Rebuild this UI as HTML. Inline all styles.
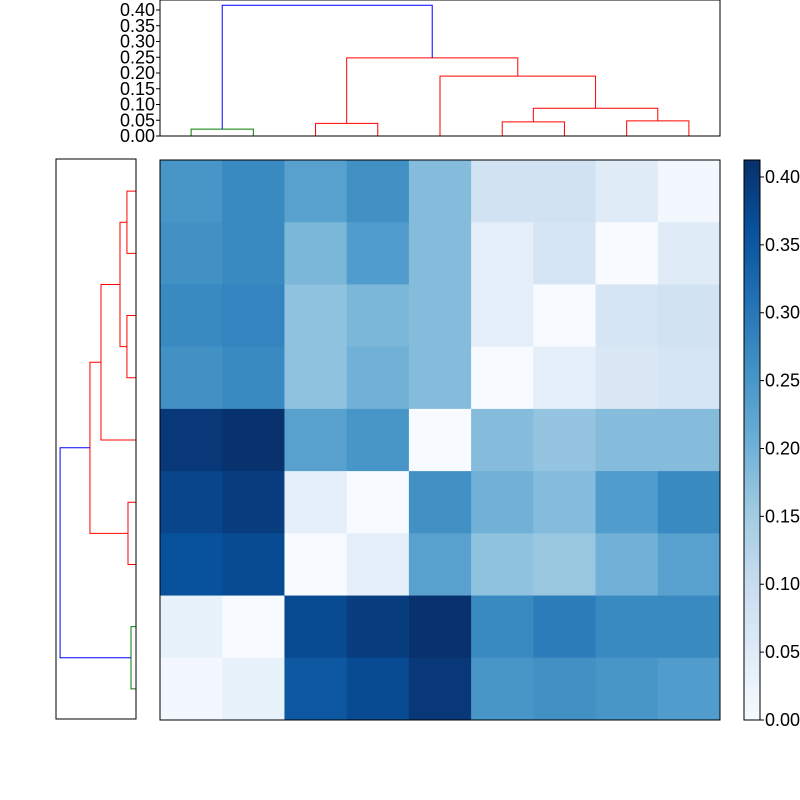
<!DOCTYPE html>
<html><head><meta charset="utf-8"><style>
body{margin:0;background:#fff;}
svg{display:block;font-family:"Liberation Sans",sans-serif;}
</style></head><body>
<svg id="chart" width="800" height="800" xmlns="http://www.w3.org/2000/svg">
<defs>
<linearGradient id="cbgrad" x1="0" y1="1" x2="0" y2="0">
<stop offset="0" stop-color="#f7fbff"/><stop offset="0.125" stop-color="#deebf7"/>
<stop offset="0.25" stop-color="#c6dbef"/><stop offset="0.375" stop-color="#9ecae1"/>
<stop offset="0.5" stop-color="#6baed6"/><stop offset="0.625" stop-color="#4292c6"/>
<stop offset="0.75" stop-color="#2171b5"/><stop offset="0.875" stop-color="#08519c"/>
<stop offset="1" stop-color="#08306b"/>
</linearGradient>
</defs>
<g id="heat"></g>
<g id="topd"></g>
<g id="leftd"></g>
<g id="cbar"></g>
</svg>
<script>
const matrix = [
 [0.25,0.27,0.23,0.26,0.18,0.08,0.08,0.05,0.01],
 [0.26,0.27,0.19,0.24,0.18,0.04,0.07,0.00,0.05],
 [0.27,0.28,0.17,0.19,0.18,0.04,0.00,0.07,0.08],
 [0.26,0.27,0.17,0.20,0.18,0.00,0.04,0.06,0.07],
 [0.40,0.41,0.23,0.25,0.00,0.18,0.165,0.18,0.18],
 [0.38,0.39,0.04,0.00,0.26,0.20,0.18,0.24,0.27],
 [0.36,0.37,0.00,0.04,0.23,0.17,0.16,0.20,0.23],
 [0.03,0.00,0.37,0.39,0.41,0.27,0.29,0.27,0.27],
 [0.01,0.03,0.35,0.37,0.40,0.25,0.26,0.25,0.24]
];
const vmax = 0.4125;
const cbTicks = [0.00,0.05,0.10,0.15,0.20,0.25,0.30,0.35,0.40];
const topTicks = [0.00,0.05,0.10,0.15,0.20,0.25,0.30,0.35,0.40];
const topLinks = [
 [0,1,0,0,0.022,'green'],
 [2,3,0,0,0.040,'red'],
 [5,6,0,0,0.045,'red'],
 [7,8,0,0,0.048,'red'],
 [5.5,7.5,0.045,0.048,0.088,'red'],
 [4,6.5,0,0.088,0.19,'red'],
 [2.5,5.25,0.040,0.19,0.248,'red'],
 [0.5,3.875,0.022,0.248,0.415,'blue']
];
const leftLinks = [
 [0,1,0,0,0.051,'red'],
 [2,3,0,0,0.051,'red'],
 [0.5,2.5,0.051,0.051,0.090,'red'],
 [1.5,4,0.090,0,0.197,'red'],
 [5,6,0,0,0.045,'red'],
 [2.75,5.5,0.197,0.045,0.259,'red'],
 [7,8,0,0,0.028,'green'],
 [4.125,7.5,0.259,0.028,0.427,'blue']
];
const NS='http://www.w3.org/2000/svg';
function el(tag,attrs,parent){const e=document.createElementNS(NS,tag);for(const k in attrs)e.setAttribute(k,attrs[k]);parent.appendChild(e);return e;}
const stops=[[0,[247,251,255]],[0.125,[222,235,247]],[0.25,[198,219,239]],[0.375,[158,202,225]],[0.5,[107,174,214]],[0.625,[66,146,198]],[0.75,[33,113,181]],[0.875,[8,81,156]],[1,[8,48,107]]];
function cmap(t){t=Math.max(0,Math.min(1,t));for(let i=1;i<stops.length;i++){if(t<=stops[i][0]){const a=stops[i-1],b=stops[i],f=(t-a[0])/(b[0]-a[0]);return 'rgb('+a[1].map((v,j)=>Math.round(v+(b[1][j]-v)*f)).join(',')+')';}}return 'rgb(8,48,107)';}
const HX=160,HY=160,HS=560,n=matrix.length,cs=HS/n;
const heat=document.getElementById('heat');
matrix.forEach((row,r)=>row.forEach((v,c)=>{
 const e=el('rect',{x:HX+c*cs,y:HY+r*cs,width:cs+0.5,height:cs+0.5,fill:cmap(v/vmax)},heat);
 
 
}));
const hf=el('rect',{x:HX,y:HY,width:HS,height:HS,fill:'none',stroke:'#000','stroke-width':1},heat);


const topd=document.getElementById('topd');
const tX=u=>HX+cs*(u+0.5), tY=h=>136-h*315;
topLinks.forEach(l=>{
 const [a,b,ha,hb,h,col]=l;
 const p=el('polyline',{points:`${tX(a)},${tY(ha)} ${tX(a)},${tY(h)} ${tX(b)},${tY(h)} ${tX(b)},${tY(hb)}`,fill:'none',stroke:col,'stroke-width':1},topd);
 
 
});
const tf=el('rect',{x:160,y:0,width:560,height:136,fill:'none',stroke:'#000','stroke-width':1},topd);


topTicks.forEach(v=>{
 el('line',{x1:156,x2:160,y1:tY(v),y2:tY(v),stroke:'#000'},topd);
 const t=el('text',{x:155,y:tY(v)+6,'text-anchor':'end','font-size':18},topd);
 t.textContent=v.toFixed(2);
 
 
});
const leftd=document.getElementById('leftd');
const lY=u=>HY+cs*(u+0.5), lX=d=>136-d*(80/0.45);
leftLinks.forEach(l=>{
 const [a,b,da,db,d,col]=l;
 const p=el('polyline',{points:`${lX(da)},${lY(a)} ${lX(d)},${lY(a)} ${lX(d)},${lY(b)} ${lX(db)},${lY(b)}`,fill:'none',stroke:col,'stroke-width':1},leftd);
 
 
});
const lf=el('rect',{x:56,y:159,width:80,height:560,fill:'none',stroke:'#000','stroke-width':1},leftd);


const cbar=document.getElementById('cbar');
const cY=v=>720-v/vmax*560;
const cb=el('rect',{x:744,y:160,width:16,height:560,fill:'url(#cbgrad)',stroke:'#000','stroke-width':1},cbar);


cbTicks.forEach(v=>{
 el('line',{x1:760,x2:764,y1:cY(v),y2:cY(v),stroke:'#000'},cbar);
 const t=el('text',{x:765,y:cY(v)+6,'font-size':18},cbar);
 t.textContent=v.toFixed(2);
 
 
});
</script>
</body></html>
